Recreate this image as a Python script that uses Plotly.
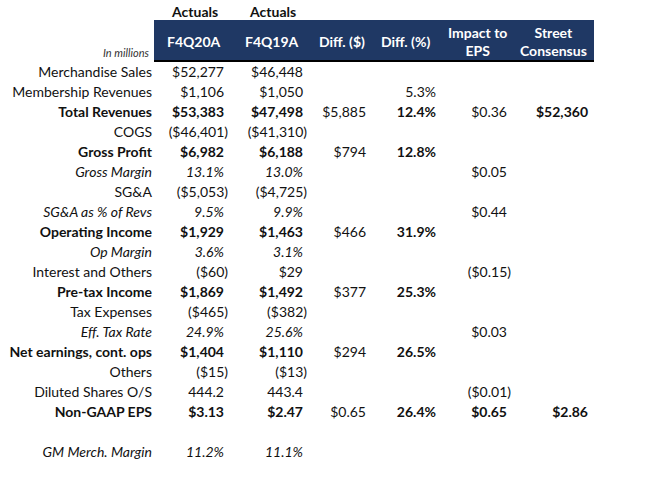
import plotly.graph_objects as go

# ---------------- data ----------------
row_labels = ["Merchandise Sales", "Membership Revenues", "Total Revenues", "COGS", "Gross Profit",
              "Gross Margin", "SG&A", "SG&A as % of Revs", "Operating Income", "Op Margin",
              "Interest and Others", "Pre-tax Income", "Tax Expenses", "Eff. Tax Rate",
              "Net earnings, cont. ops", "Others", "Diluted Shares O/S", "Non-GAAP EPS", "",
              "GM Merch. Margin"]
f4q20a = ["$52,277", "$1,106", "$53,383", "($46,401)", "$6,982", "13.1%", "($5,053)", "9.5%",
          "$1,929", "3.6%", "($60)", "$1,869", "($465)", "24.9%", "$1,404", "($15)", "444.2",
          "$3.13", "", "11.2%"]
f4q19a = ["$46,448", "$1,050", "$47,498", "($41,310)", "$6,188", "13.0%", "($4,725)", "9.9%",
          "$1,463", "3.1%", "$29", "$1,492", "($382)", "25.6%", "$1,110", "($13)", "443.4",
          "$2.47", "", "11.1%"]
diff_usd = ["", "", "$5,885", "", "$794", "", "", "", "$466", "", "", "$377", "", "",
            "$294", "", "", "$0.65", "", ""]
diff_pct = ["", "5.3%", "12.4%", "", "12.8%", "", "", "", "31.9%", "", "", "25.3%", "", "",
            "26.5%", "", "", "26.4%", "", ""]
impact_eps = ["", "", "$0.36", "", "", "$0.05", "", "$0.44", "", "", "($0.15)", "", "",
              "$0.03", "", "", "($0.01)", "$0.65", "", ""]
street = ["", "", "$52,360", "", "", "", "", "", "", "", "", "", "", "", "", "", "", "$2.86", "", ""]

col_headers = ["F4Q20A", "F4Q19A", "Diff. ($)", "Diff. (%)", "Impact to<br>EPS", "Street<br>Consensus"]
super_headers = ["Actuals", "Actuals", "", "", "", ""]
unit_note = "In millions"

# ---------------- styles / layout ----------------
bold_rows = {"Total Revenues", "Gross Profit", "Operating Income", "Pre-tax Income",
             "Net earnings, cont. ops", "Non-GAAP EPS"}
italic_rows = {"Gross Margin", "SG&A as % of Revs", "Op Margin", "Eff. Tax Rate", "GM Merch. Margin"}
bold_cols = [True, True, False, True, False, True]
bold_cols_eps = [True, True, False, True, True, True]
italic_cols = [True, True, False, False, False, False]

W, H = 664, 484
FONT = "Lato, 'Open Sans', sans-serif"
FS = 14
NAVY = "#1F3864"
label_right = 152
col_right = [224, 303, 366, 436, 507, 588]
col_center = [194, 272, 342, 405, 477, 553]
row_y0, row_dy = 73, 20

fig = go.Figure()

def styled(txt, bold, italic):
    if not txt:
        return txt
    if bold:
        txt = "<b>" + txt + "</b>"
    if italic:
        txt = "<i>" + txt + "</i>"
    return txt

ys = [row_y0 + row_dy * i for i in range(len(row_labels))]
lab_txt = [styled(l.replace("&", "&amp;"), l in bold_rows, l in italic_rows) for l in row_labels]
fig.add_trace(go.Scatter(x=[label_right] * len(row_labels), y=ys, mode="text", text=lab_txt,
                         textposition="middle left",
                         textfont=dict(family=FONT, size=FS, color="#111111"),
                         hoverinfo="skip", showlegend=False))

columns = [f4q20a, f4q19a, diff_usd, diff_pct, impact_eps, street]
for ci, col in enumerate(columns):
    xs, yv, tx = [], [], []
    for ri, v in enumerate(col):
        if not v:
            continue
        lab = row_labels[ri]
        b = lab in bold_rows and (bold_cols_eps if lab == "Non-GAAP EPS" else bold_cols)[ci]
        it = lab in italic_rows and italic_cols[ci]
        shift = 4 if v.startswith("(") else 0
        xs.append(col_right[ci] + shift)
        yv.append(ys[ri])
        tx.append(styled(v, b, it))
    fig.add_trace(go.Scatter(x=xs, y=yv, mode="text", text=tx, textposition="middle left",
                             textfont=dict(family=FONT, size=FS, color="#111111"),
                             hoverinfo="skip", showlegend=False))

fig.add_shape(type="rect", x0=154, x1=594, y0=20, y1=61, xref="x", yref="y",
              fillcolor=NAVY, line=dict(width=0), layer="below")
fig.add_shape(type="line", x0=154, x1=594, y0=61, y1=61, xref="x", yref="y",
              line=dict(color="#000000", width=2))

for ci, h in enumerate(col_headers):
    fig.add_annotation(x=col_center[ci], y=41, xref="x", yref="y", text="<b>" + h + "</b>",
                       showarrow=False, font=dict(family=FONT, size=FS, color="white"),
                       xanchor="center", yanchor="middle")
    if super_headers[ci]:
        fig.add_annotation(x=col_center[ci], y=11, xref="x", yref="y",
                           text="<b>" + super_headers[ci] + "</b>", showarrow=False,
                           font=dict(family=FONT, size=FS, color="#111111"),
                           xanchor="center", yanchor="middle")

fig.add_annotation(x=151, y=52, xref="x", yref="y", text="<i>" + unit_note + "</i>",
                   showarrow=False, font=dict(family=FONT, size=11, color="#333333"),
                   xanchor="right", yanchor="middle")

fig.update_layout(
    width=W, height=H, margin=dict(l=0, r=0, t=0, b=0),
    paper_bgcolor="white", plot_bgcolor="white",
    xaxis=dict(range=[0, W], visible=False, fixedrange=True),
    yaxis=dict(range=[H, 0], visible=False, fixedrange=True),
)

fig.write_html("out.html", config={"displayModeBar": False},
               post_script="document.body.style.margin='0';document.body.style.overflow='hidden';")
